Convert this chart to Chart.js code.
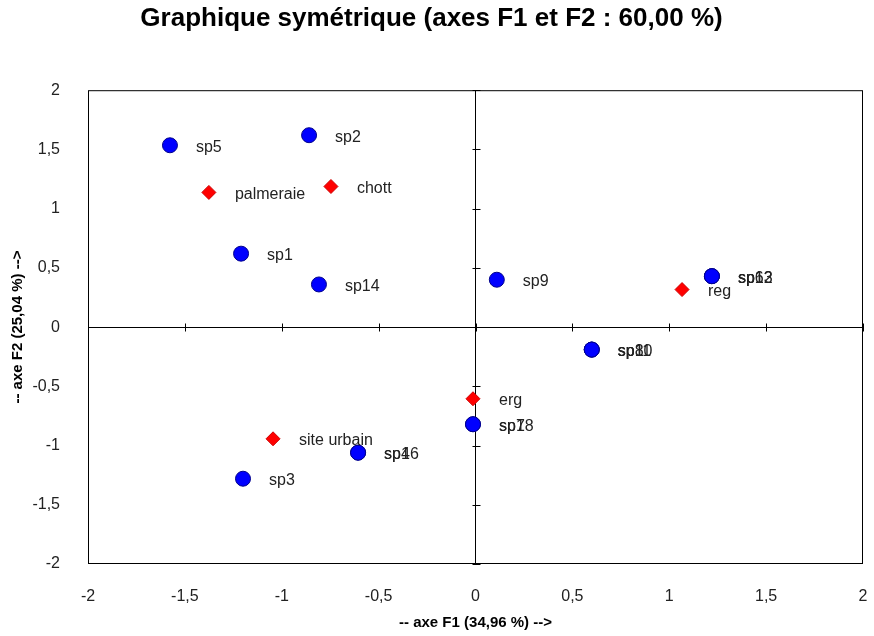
<!DOCTYPE html>
<html>
<head>
<meta charset="utf-8">
<script src="https://cdn.jsdelivr.net/npm/chart.js@4"></script>
<style>
  html, body { margin: 0; padding: 0; background: #fff; }
  #wrap { width: 874px; height: 636px; }
</style>
</head>
<body>
<div id="wrap"><canvas id="ca" width="874" height="636"></canvas></div>
<script>
// espèces (points bleus)
const speciesLabels = ["sp5", "sp2", "sp1", "sp14", "sp9", "sp6", "sp12", "sp13", "sp8", "sp10", "sp11", "sp7", "sp18", "sp4", "sp16", "sp3"];
const speciesF1 = [-1.577, -0.859, -1.21, -0.808, 0.11, 1.22, 1.22, 1.22, 0.60, 0.60, 0.60, -0.013, -0.013, -0.606, -0.606, -1.20];
const speciesF2 = [1.535, 1.62, 0.62, 0.36, 0.40, 0.43, 0.43, 0.43, -0.19, -0.19, -0.19, -0.82, -0.82, -1.06, -1.06, -1.28];

// sites (losanges rouges)
const siteLabels = ["palmeraie", "chott", "reg", "erg", "site urbain"];
const siteF1 = [-1.376, -0.746, 1.066, -0.013, -1.045];
const siteF2 = [1.137, 1.187, 0.317, -0.605, -0.943];

const axisTicks = [-2, -1.5, -1, -0.5, 0, 0.5, 1, 1.5, 2];

const fmt = v => String(v).replace(".", ",");

const frame = {
  id: "frame",
  afterDatasetsDraw(chart) {
    const { ctx, chartArea: a, scales: { x, y } } = chart;
    ctx.save();
    ctx.strokeStyle = "#000";
    ctx.lineWidth = 1;
    ctx.strokeRect(a.left + 0.5, a.top + 0.5, a.right - a.left - 1, a.bottom - a.top - 1);
    // petites graduations sur les axes centraux
    const x0 = Math.round(x.getPixelForValue(0)) + 0.5;
    const y0 = Math.round(y.getPixelForValue(0)) + 0.5;
    ctx.beginPath();
    axisTicks.forEach(t => {
      const py = Math.round(y.getPixelForValue(t)) + 0.5;
      ctx.moveTo(x0 - 4, py); ctx.lineTo(x0 + 4, py);
      const px = Math.round(x.getPixelForValue(t)) + 0.5;
      ctx.moveTo(px, y0 - 4); ctx.lineTo(px, y0 + 4);
    });
    ctx.stroke();
    // étiquettes
    ctx.font = "16px 'Liberation Sans', Arial, sans-serif";
    ctx.fillStyle = "#222";
    ctx.textBaseline = "middle";
    chart.data.datasets.forEach(ds => {
      ds.data.forEach(p => {
        ctx.fillText(p.label, x.getPixelForValue(p.x) + 26, y.getPixelForValue(p.y) + 2);
      });
    });
    ctx.restore();
  }
};

new Chart(document.getElementById("ca"), {
  type: "scatter",
  data: {
    datasets: [
      {
        label: "espèces",
        data: speciesLabels.map((l, i) => ({ x: speciesF1[i], y: speciesF2[i], label: l })),
        pointStyle: "circle",
        pointRadius: 7.5,
        backgroundColor: "#0000ff",
        borderColor: "#00008b",
        borderWidth: 1
      },
      {
        label: "sites",
        data: siteLabels.map((l, i) => ({ x: siteF1[i], y: siteF2[i], label: l })),
        pointStyle: "rectRot",
        pointRadius: 7,
        backgroundColor: "#ff0000",
        borderColor: "#cc0000",
        borderWidth: 1
      }
    ]
  },
  options: {
    responsive: false,
    animation: false,
    layout: { padding: { top: 0, right: 11, bottom: 0, left: 0 } },
    plugins: {
      legend: { display: false },
      tooltip: { enabled: false },
      title: {
        display: true,
        text: "Graphique symétrique (axes F1 et F2 : 60,00 %)",
        color: "#000",
        font: { family: "'Liberation Sans', Arial, sans-serif", size: 26, weight: "bold" },
        padding: { top: 3, bottom: 56 }
      }
    },
    scales: {
      x: {
        type: "linear",
        min: -2, max: 2,
        afterBuildTicks: s => { s.ticks = axisTicks.map(v => ({ value: v })); },
        afterFit: s => { s.height = 72; s.paddingRight = 0; s.paddingLeft = 0; },
        ticks: {
          callback: v => fmt(v),
          color: "#222",
          padding: 23,
          maxRotation: 0,
          font: { family: "'Liberation Sans', Arial, sans-serif", size: 16 }
        },
        grid: {
          drawTicks: false,
          color: c => (c.tick && c.tick.value === 0 ? "#000" : "rgba(0,0,0,0)")
        },
        border: { display: false },
        title: {
          display: true,
          text: "-- axe F1 (34,96 %) -->",
          color: "#000",
          font: { family: "'Liberation Sans', Arial, sans-serif", size: 15, weight: "bold" },
          padding: { top: 2, bottom: 4 }
        }
      },
      y: {
        type: "linear",
        min: -2, max: 2,
        afterBuildTicks: s => { s.ticks = axisTicks.map(v => ({ value: v })); },
        afterFit: s => { s.width = 88; s.paddingTop = 0; s.paddingBottom = 0; },
        ticks: {
          callback: v => fmt(v),
          color: "#222",
          padding: 28,
          font: { family: "'Liberation Sans', Arial, sans-serif", size: 16 }
        },
        grid: {
          drawTicks: false,
          color: c => (c.tick && c.tick.value === 0 ? "#000" : "rgba(0,0,0,0)")
        },
        border: { display: false },
        title: {
          display: true,
          text: "-- axe F2 (25,04 %) -->",
          color: "#000",
          font: { family: "'Liberation Sans', Arial, sans-serif", size: 15, weight: "bold" },
          padding: { top: 9, bottom: 0 }
        }
      }
    }
  },
  plugins: [frame]
});
</script>
</body>
</html>
